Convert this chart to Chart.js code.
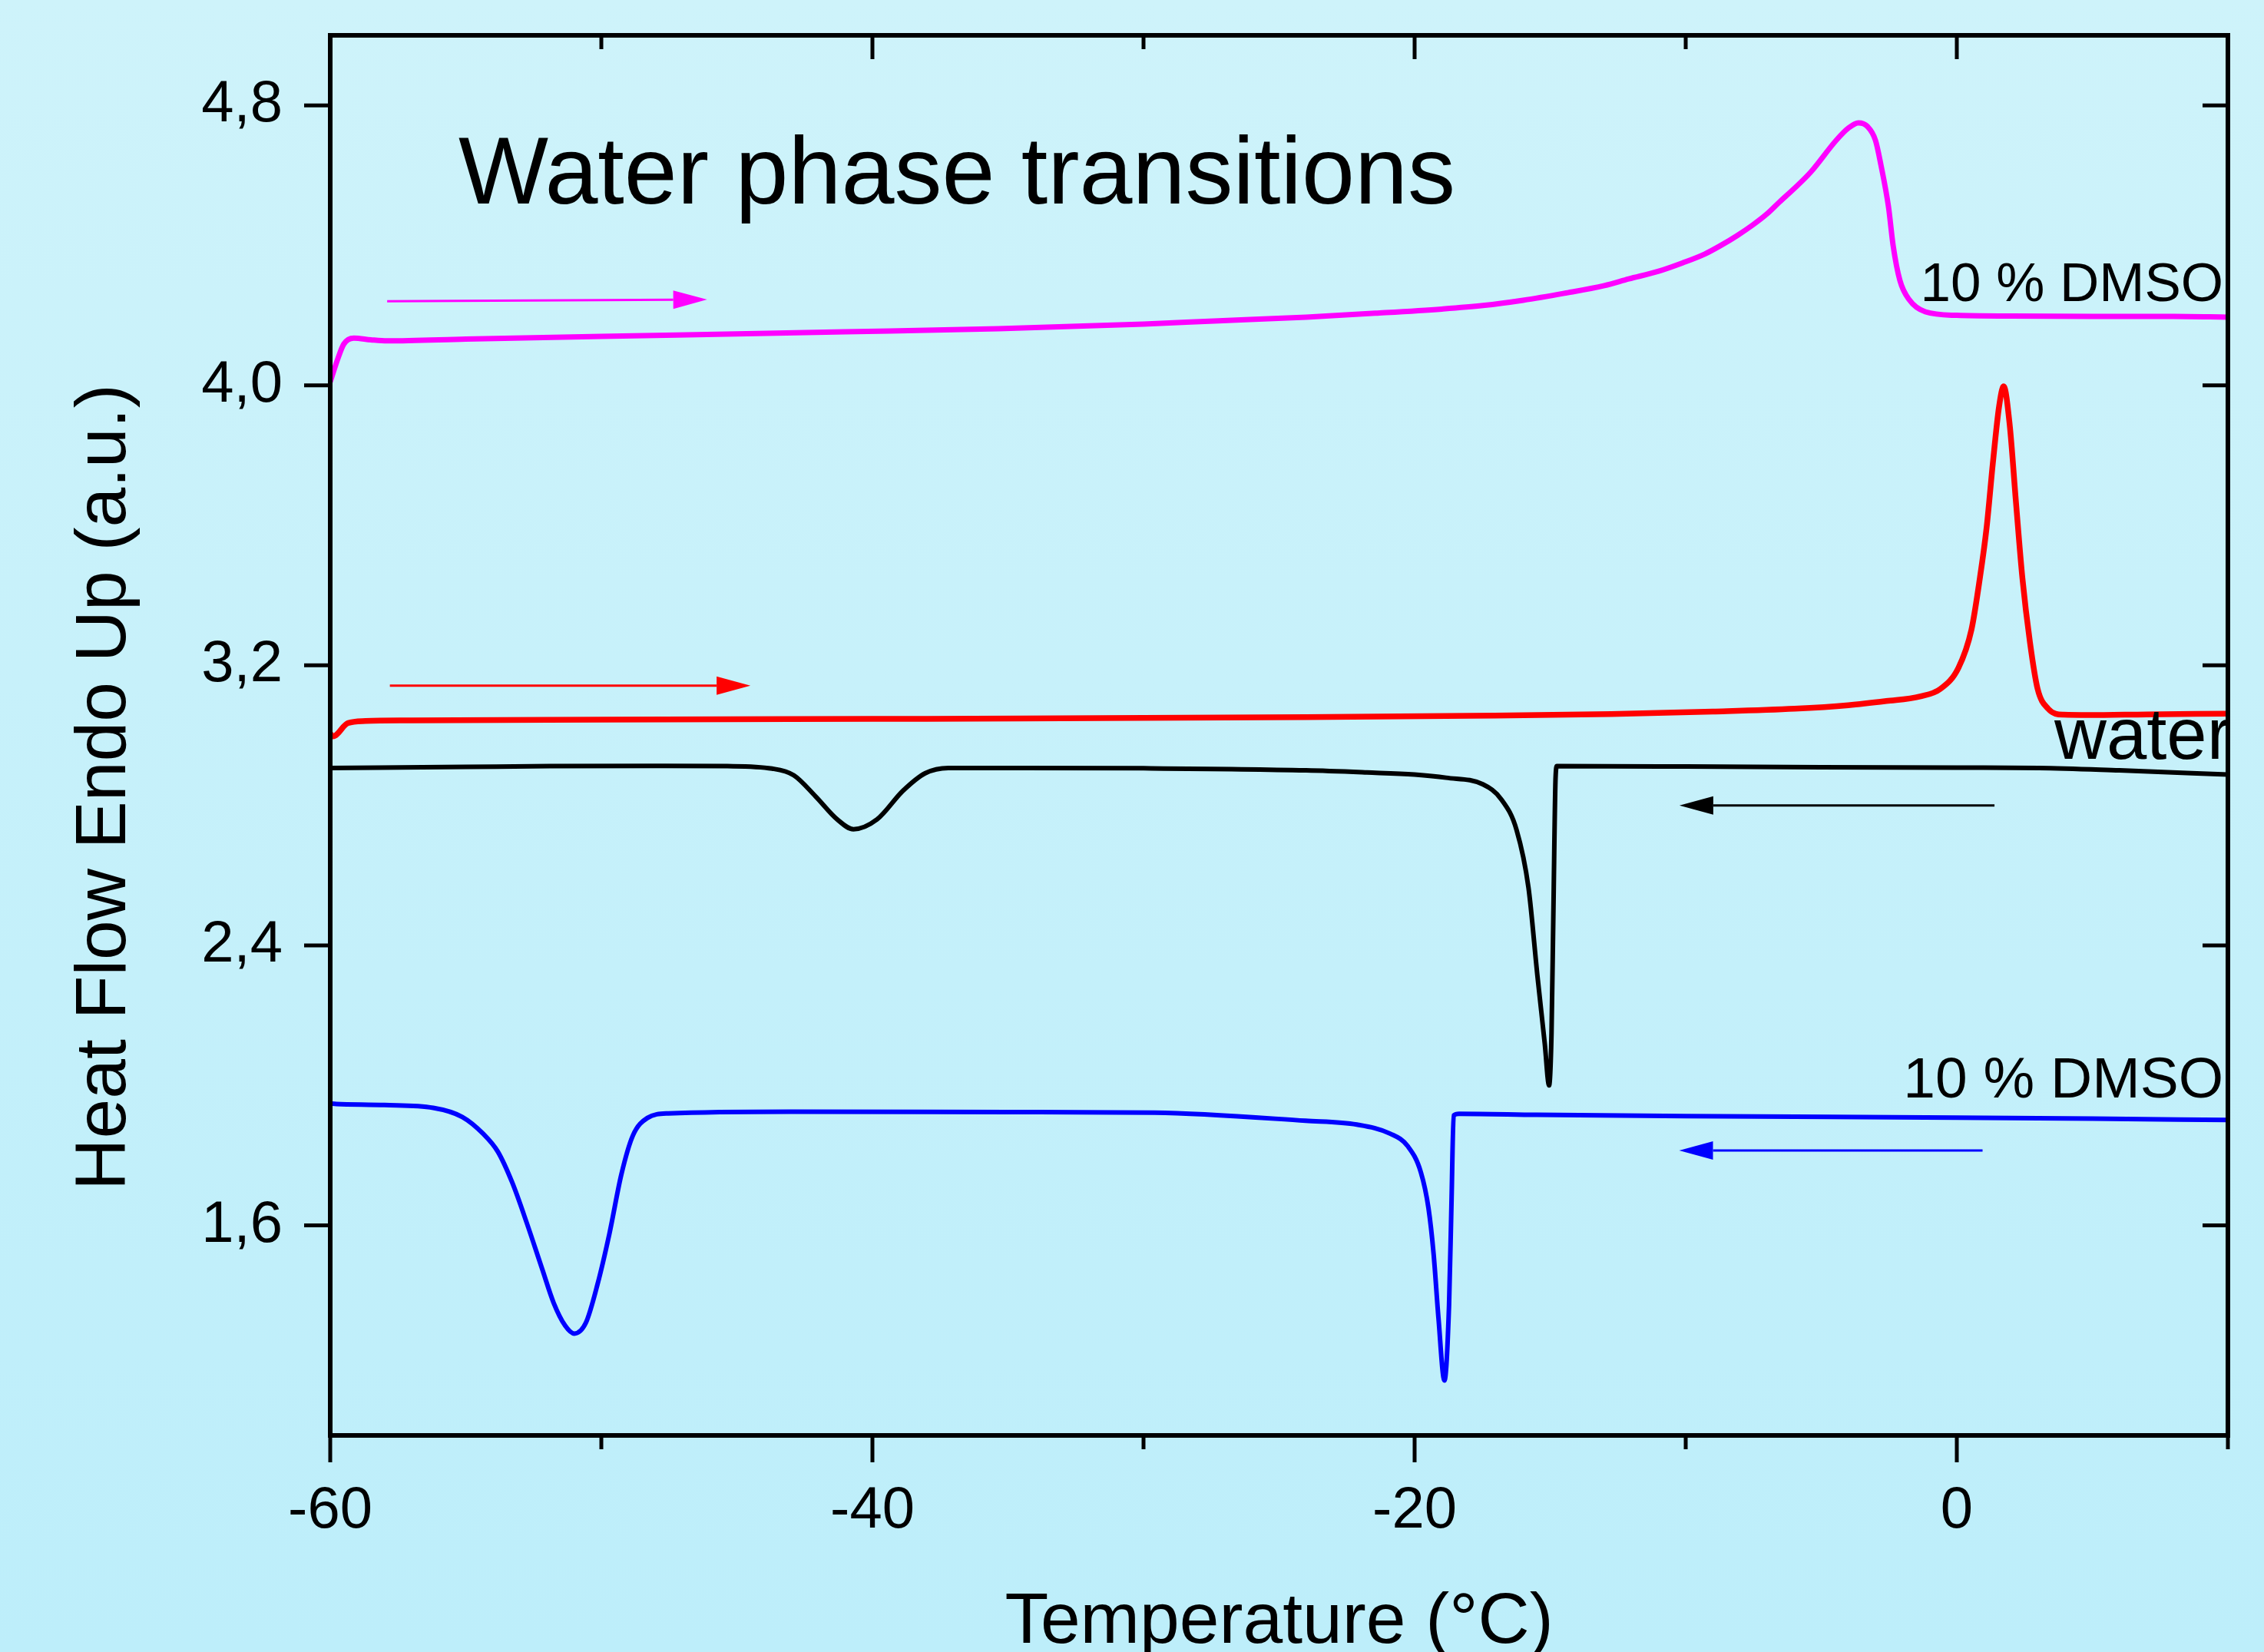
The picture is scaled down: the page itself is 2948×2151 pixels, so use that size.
<!DOCTYPE html>
<html>
<head>
<meta charset="utf-8">
<script src="https://cdn.jsdelivr.net/npm/chart.js@4.4.0/dist/chart.umd.min.js"></script>
<style>
  html, body { margin: 0; padding: 0; }
  body { background: linear-gradient(#cef3fa, #bdeefa); width: 2948px; height: 2151px; overflow: hidden; }
  canvas { display: block; }
</style>
</head>
<body>
<canvas id="dsc" width="2948" height="2151"></canvas>
<script>
// tick positions
const xTicks = [-60, -50, -40, -30, -20, -10, 0, 10];
const xLabelTicks = [-60, -40, -20, 0];
const yTicks = [1.6, 2.4, 3.2, 4.0, 4.8];

// 10 % DMSO, heating (magenta)
const dmsoHeatT = [-60, -59.72, -59.5, -59.13, -58.5, -57.9, -55, -50, -45, -41, -35.35, -30, -27.4, -24, -21.45, -19, -17.48, -16, -14.48, -13, -12.1, -11, -10.11, -9.3, -8.72, -8.1, -7.53, -7.0, -6.54, -6.03, -5.38, -4.45, -4.0, -3.63, -3.3, -3.0, -2.8, -2.52, -2.35, -2.1, -1.76, -1.16, 0, 2, 5, 8, 10];
const dmsoHeatHF = [4.01, 4.076, 4.118, 4.135, 4.13, 4.127, 4.132, 4.14, 4.147, 4.153, 4.162, 4.175, 4.184, 4.195, 4.206, 4.218, 4.228, 4.243, 4.263, 4.285, 4.304, 4.326, 4.35, 4.375, 4.399, 4.428, 4.458, 4.49, 4.524, 4.56, 4.61, 4.70, 4.735, 4.75, 4.74, 4.70, 4.63, 4.51, 4.40, 4.30, 4.245, 4.21, 4.20, 4.198, 4.197, 4.197, 4.195];

// water, heating (red)
const waterHeatT = [-60, -59.9, -59.35, -58.7, -57, -50, -40, -34.5, -24, -18, -12.75, -9, -5.98, -4, -2.6, -1.36, -0.6, 0.06, 0.54, 0.85, 1.1, 1.33, 1.56, 1.73, 1.95, 2.18, 2.42, 2.7, 2.98, 3.37, 3.94, 4.87, 7, 10];
const waterHeatHF = [3.005, 2.997, 3.035, 3.041, 3.043, 3.045, 3.047, 3.048, 3.052, 3.056, 3.061, 3.068, 3.076, 3.086, 3.098, 3.111, 3.133, 3.193, 3.302, 3.449, 3.594, 3.778, 3.94, 3.997, 3.888, 3.668, 3.449, 3.265, 3.133, 3.076, 3.059, 3.058, 3.06, 3.062];

// water, cooling (black)
const waterCoolT = [-60, -55, -51.9, -48, -45.35, -43.7, -42.9, -42.1, -41.3, -40.7, -39.83, -38.87, -38.05, -37.2, -34.5, -30, -24, -21.76, -20, -18.84, -17.48, -16.8, -16.24, -15.8, -15.47, -15.2, -15.04, -14.95, -14.88, -14.8, -14.75, -10, -5, 0, 3.03, 6, 10];
const waterCoolHF = [2.907, 2.91, 2.912, 2.913, 2.912, 2.905, 2.886, 2.826, 2.76, 2.732, 2.76, 2.842, 2.892, 2.907, 2.907, 2.906, 2.90, 2.894, 2.888, 2.879, 2.86, 2.817, 2.73, 2.565, 2.313, 2.12, 2.0, 2.15, 2.5, 2.88, 2.912, 2.911, 2.909, 2.908, 2.907, 2.90, 2.888];

// 10 % DMSO, cooling (blue)
const dmsoCoolT = [-60, -59.77, -58, -56.2, -55.13, -54.36, -53.82, -53.29, -52.75, -52.18, -51.76, -51.33, -51.0, -50.57, -50.14, -49.7, -49.26, -48.84, -48.3, -47.53, -43, -35, -29.6, -24.02, -22.13, -20.9, -20.25, -19.77, -19.49, -19.3, -19.12, -18.9, -18.73, -18.64, -18.56, -18.36, -15.5, -10, 0, 5, 10];
const dmsoCoolHF = [1.948, 1.947, 1.944, 1.936, 1.91, 1.862, 1.811, 1.723, 1.607, 1.475, 1.379, 1.313, 1.291, 1.322, 1.432, 1.577, 1.746, 1.856, 1.907, 1.92, 1.925, 1.924, 1.922, 1.899, 1.888, 1.862, 1.826, 1.752, 1.65, 1.519, 1.335, 1.157, 1.372, 1.664, 1.914, 1.919, 1.916, 1.912, 1.908, 1.905, 1.901];

// scan direction arrows [x from, y from, x to, y to, colour]
const arrows = [
    [-57.9, 4.240, -46.1, 4.245, '#ff00ff'],
    [-57.8, 3.142, -44.5, 3.142, '#ff0000'],
    [1.39, 2.800, -10.23, 2.800, '#000000'],
    [0.95, 1.814, -10.24, 1.814, '#0000ff']
];

// text inside the plot [text, x, y, align, size]
const notes = [
    ['Water phase transitions', -55.27, 4.52, 'left', 124],
    ['10 % DMSO', 9.83, 4.24, 'right', 71],
    ['water', 3.6, 2.934, 'left', 94],
    ['10 % DMSO', 9.83, 1.965, 'right', 75]
];

const FONT = '"Liberation Sans", Arial, sans-serif';

function toPoints(xs, ys) {
    return xs.map((x, i) => ({ x: x, y: ys[i] }));
}

function series(xs, ys, color, width) {
    return {
        data: toPoints(xs, ys),
        borderColor: color,
        borderWidth: width,
        pointRadius: 0,
        fill: false,
        cubicInterpolationMode: 'monotone'
    };
}

const frame = {
    id: 'frame',
    afterDatasetsDraw(chart) {
        const { ctx, chartArea: a, scales: { x, y } } = chart;
        ctx.save();

        // annotations
        ctx.fillStyle = '#000';
        ctx.textBaseline = 'alphabetic';
        notes.forEach(([txt, tx, ty, align, size]) => {
            ctx.font = size + 'px ' + FONT;
            ctx.textAlign = align;
            ctx.fillText(txt, x.getPixelForValue(tx), y.getPixelForValue(ty));
        });

        // arrows
        arrows.forEach(([x0, y0, x1, y1, col]) => {
            const px0 = x.getPixelForValue(x0), py0 = y.getPixelForValue(y0);
            const px1 = x.getPixelForValue(x1), py1 = y.getPixelForValue(y1);
            const ang = Math.atan2(py1 - py0, px1 - px0);
            const hl = 44, hw = 12;
            ctx.strokeStyle = col;
            ctx.fillStyle = col;
            ctx.lineWidth = 3;
            ctx.beginPath();
            ctx.moveTo(px0, py0);
            ctx.lineTo(px1 - hl * Math.cos(ang), py1 - hl * Math.sin(ang));
            ctx.stroke();
            ctx.beginPath();
            ctx.moveTo(px1, py1);
            ctx.lineTo(px1 - hl * Math.cos(ang) - hw * Math.sin(ang), py1 - hl * Math.sin(ang) + hw * Math.cos(ang));
            ctx.lineTo(px1 - hl * Math.cos(ang) + hw * Math.sin(ang), py1 - hl * Math.sin(ang) - hw * Math.cos(ang));
            ctx.closePath();
            ctx.fill();
        });

        // box and ticks
        ctx.strokeStyle = '#000';
        ctx.lineWidth = 6;
        ctx.lineCap = 'butt';
        ctx.strokeRect(a.left, a.top, a.right - a.left, a.bottom - a.top);

        ctx.lineWidth = 5;
        ctx.beginPath();
        x.ticks.forEach(t => {
            const px = x.getPixelForValue(t.value);
            const major = xLabelTicks.includes(t.value);
            ctx.moveTo(px, a.bottom);
            ctx.lineTo(px, a.bottom + (major ? 35 : 18));
            ctx.moveTo(px, a.top);
            ctx.lineTo(px, a.top + (major ? 31 : 18));
        });
        y.ticks.forEach(t => {
            const py = y.getPixelForValue(t.value);
            ctx.moveTo(a.left, py);
            ctx.lineTo(a.left - 34, py);
            ctx.moveTo(a.right, py);
            ctx.lineTo(a.right - 33, py);
        });
        ctx.stroke();

        // axis titles
        ctx.fillStyle = '#000';
        ctx.font = '93px ' + FONT;
        ctx.textAlign = 'center';
        ctx.textBaseline = 'alphabetic';
        ctx.fillText('Temperature (°C)', (a.left + a.right) / 2, 2139);
        ctx.translate(163, 1025);
        ctx.rotate(-Math.PI / 2);
        ctx.fillText('Heat Flow Endo Up (a.u.)', 0, 0);
        ctx.restore();
    }
};

new Chart(document.getElementById('dsc'), {
    type: 'line',
    data: {
        datasets: [
            series(dmsoHeatT, dmsoHeatHF, '#ff00ff', 7),
            series(waterHeatT, waterHeatHF, '#ff0000', 7.5),
            series(waterCoolT, waterCoolHF, '#000000', 6),
            series(dmsoCoolT, dmsoCoolHF, '#0000ff', 6)
        ]
    },
    options: {
        responsive: false,
        animation: false,
        devicePixelRatio: 1,
        layout: { padding: { left: 0, right: 47, top: 46, bottom: 0 } },
        plugins: { legend: { display: false }, tooltip: { enabled: false } },
        scales: {
            x: {
                type: 'linear',
                position: 'bottom',
                min: -60,
                max: 10,
                afterBuildTicks: s => { s.ticks = xTicks.map(v => ({ value: v })); },
                afterFit: s => { s.height = 282; s.paddingLeft = 0; s.paddingRight = 0; },
                ticks: {
                    autoSkip: false,
                    maxRotation: 0,
                    padding: 18,
                    color: '#000',
                    font: { family: FONT, size: 76 },
                    callback: v => xLabelTicks.includes(v) ? String(v) : ''
                },
                grid: { display: false, drawTicks: true, tickLength: 35 },
                border: { display: false }
            },
            y: {
                type: 'linear',
                position: 'left',
                min: 1.0,
                max: 5.0,
                afterBuildTicks: s => { s.ticks = yTicks.map(v => ({ value: v })); },
                afterFit: s => { s.width = 430; s.paddingTop = 0; s.paddingBottom = 0; },
                ticks: {
                    padding: 28,
                    color: '#000',
                    font: { family: FONT, size: 76 },
                    callback: v => v.toFixed(1).replace('.', ',')
                },
                grid: { display: false, drawTicks: true, tickLength: 34 },
                border: { display: false }
            }
        }
    },
    plugins: [frame]
});
</script>
</body>
</html>
